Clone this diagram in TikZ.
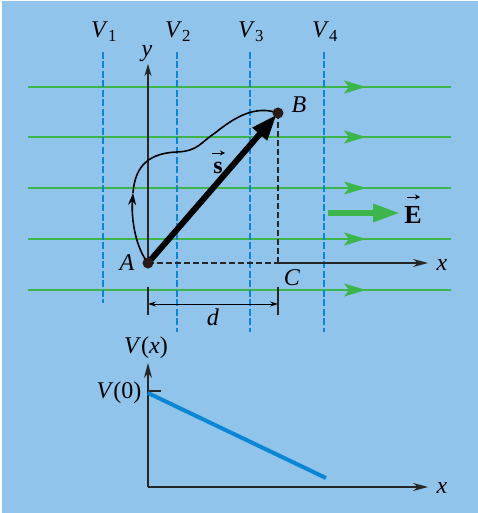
\documentclass[tikz,border=0pt]{standalone}
\usepackage{fontspec}
\setmainfont{Liberation Serif}
\usetikzlibrary{arrows.meta}
\definecolor{bgblue}{HTML}{90C4EA}
\definecolor{fieldgreen}{HTML}{3CB54A}
\definecolor{eqblue}{HTML}{0A86D4}
\definecolor{dotc}{HTML}{2B1B17}
\begin{document}
\begin{tikzpicture}[x=1pt,y=-1pt,
  lbl/.style={font=\fontsize{24}{28}\selectfont, inner sep=0pt, anchor=base},
  fieldline/.style={draw=fieldgreen, line width=2.2pt},
  equip/.style={draw=eqblue, line width=2pt, dash pattern=on 7pt off 2.5pt},
  axis/.style={draw=black!85, line width=1.2pt},
  dashaux/.style={draw=black!85, line width=1.2pt, dash pattern=on 6pt off 3pt},
  dot/.style={circle, fill=dotc, inner sep=0pt, minimum size=11pt},
  vecarrow/.style={line width=0.9pt, -{Stealth[length=5pt,width=5pt]}},
  ]
\useasboundingbox (0,0) rectangle (478,513);
\fill[white] (0,0) rectangle (478,513);
\fill[bgblue] (2,1) rectangle (478,513);

% field lines
\foreach \y in {87,137,188,239,290} {
  \draw[fieldline] (28,\y) -- (451,\y);
  \fill[fieldgreen] (366,\y) -- (344,\y-6.5) -- (349,\y) -- (344,\y+6.5) -- cycle;
}

% equipotentials
\foreach \x/\yb in {103/303,177/332,250/332,324/332}
  \draw[equip] (\x,52) -- (\x,\yb);
\node[lbl] (v1) at (104,38) {\textit{V}\textsubscript{1}};
\node[lbl] (v2) at (178,38) {\textit{V}\textsubscript{2}};
\node[lbl] (v3) at (251,38) {\textit{V}\textsubscript{3}};
\node[lbl] (v4) at (325,38) {\textit{V}\textsubscript{4}};

\coordinate (A) at (148,263);
\coordinate (B) at (278,113);
\coordinate (C) at (278,263);
\coordinate (ytip) at (148,64);
\coordinate (xtip) at (428,263);

% axes
\draw[axis,-{Stealth[length=12pt,width=7pt]}] (A) -- (ytip);
\draw[dashaux] (A) -- (C);
\draw[axis,-{Stealth[length=15pt,width=8pt]}] (C) -- (xtip);
\draw[dashaux] (B) -- (C);
\node[lbl] (ylab) at (147,57) {\textit{y}};
\node[lbl] (xlab) at (442,270) {\textit{x}};

% path
\draw[line width=1.6pt, -{Stealth[length=12pt,width=8pt]}]
  (A) .. controls (136,248) and (131,220) .. (133,193);
\draw[line width=1.6pt]
  (133,193) .. controls (135,165) and (150,153) .. (177,152)
            .. controls (198,151) and (200,143) .. (215,133)
            .. controls (235,117) and (255,105) .. (B);

% displacement
\draw[line width=6pt, shorten >=2pt, -{Triangle[length=26pt,width=18pt]}] (A) -- (B);
\node[dot] (Adot) at (A) {};
\node[dot] (Bdot) at (B) {};
\node[lbl] (Alab) at (127,270) {\textit{A}};
\node[lbl] (Blab) at (299,113) {\textit{B}};
\node[lbl] (Clab) at (292,285) {\textit{C}};
\node[lbl] (slab) at (218,173) {\bfseries s};
\coordinate (sa1) at (212,153);
\coordinate (sa2) at (225,153);
\draw[vecarrow] (sa1) -- (sa2);

% d dimension
\coordinate (d1) at (148,304);
\coordinate (d2) at (278,304);
\draw[axis] (148,287) -- (148,315);
\draw[axis] (278,287) -- (278,315);
\draw[line width=0.9pt, {Stealth[length=8pt,width=5pt]}-{Stealth[length=8pt,width=5pt]}] (d1) -- (d2);
\node[lbl] (dlab) at (213,325) {\textit{d}};

% E field arrow
\coordinate (E1) at (328,213);
\coordinate (E2) at (400,213);
\draw[fieldgreen, line width=6pt, -{Triangle[length=27pt,width=17pt]}] (E1) -- (E2);
\node[lbl, font=\fontsize{26}{30}\selectfont\bfseries] (Elab) at (413,223) {E};
\coordinate (ea1) at (407,197);
\coordinate (ea2) at (420,197);
\draw[vecarrow] (ea1) -- (ea2);

% lower graph
\coordinate (O) at (148,487);
\coordinate (vtip) at (148,363);
\coordinate (gxtip) at (428,487);
\draw[axis,-{Stealth[length=15pt,width=8pt]}] (O) -- (vtip);
\draw[axis,-{Stealth[length=15pt,width=8pt]}] (O) -- (gxtip);
\draw[axis] (148,391) -- (161,391);
\coordinate (L1) at (148,393);
\coordinate (L2) at (326,478);
\draw[eqblue, line width=4pt] (L1) -- (L2);
\node[lbl] (Vxlab) at (146,353) {\textit{V}(\textit{x})};
\node[lbl] (V0lab) at (119,398) {\textit{V}(0)};
\node[lbl] (gxlab) at (442,493) {\textit{x}};
\end{tikzpicture}
\end{document}
